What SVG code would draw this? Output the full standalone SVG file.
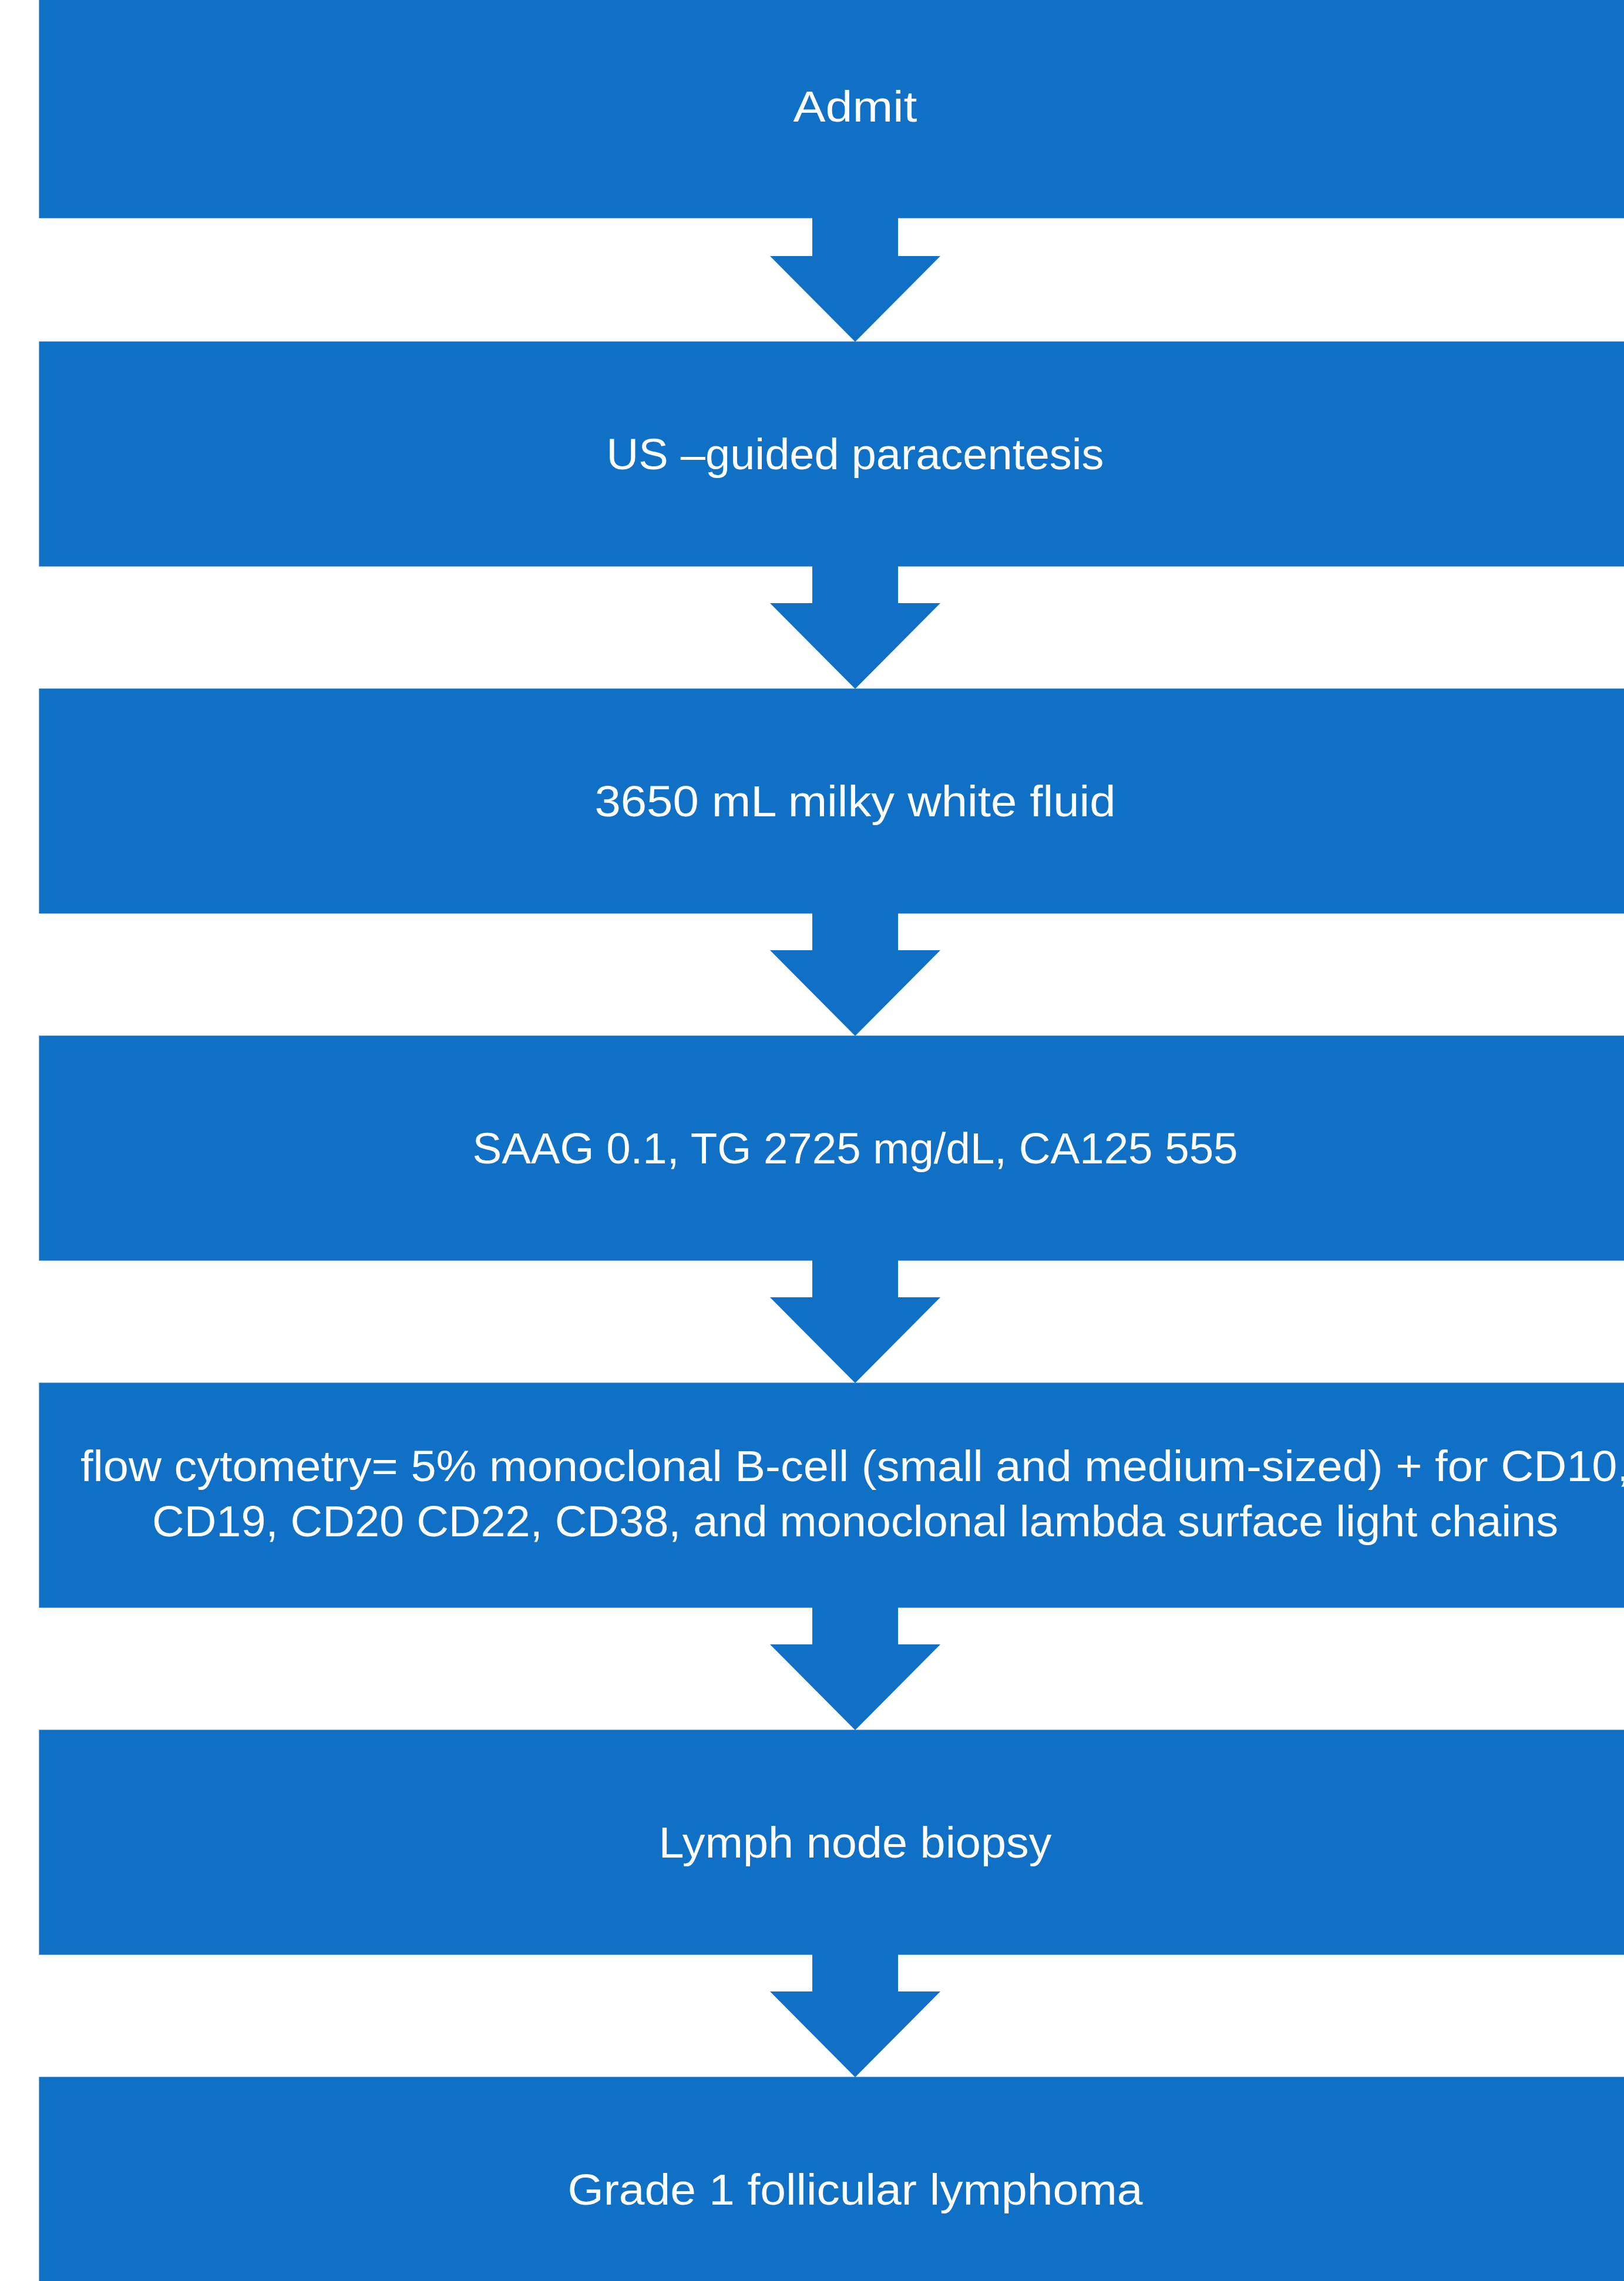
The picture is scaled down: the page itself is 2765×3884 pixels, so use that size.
<svg xmlns="http://www.w3.org/2000/svg" width="2765" height="3884" viewBox="0 0 2765 3884">
<style>
.box{fill:#1070c5;stroke:#ffffff;stroke-opacity:0.6;stroke-width:1.5}
.arr{fill:#1070c5}
.t{font-family:"Liberation Sans",Arial,sans-serif;font-size:75px;fill:#ffffff;text-anchor:middle}
</style>
<rect width="2765" height="3884" fill="#ffffff"/>
<g id="n1"><rect class="box" x="66" y="-10" width="2780" height="382"/><text class="t" x="1456" y="207" textLength="211" lengthAdjust="spacingAndGlyphs">Admit</text></g>
<g id="n2"><rect class="box" x="66" y="581" width="2780" height="384"/><text class="t" x="1456" y="799" textLength="847" lengthAdjust="spacingAndGlyphs">US –guided paracentesis</text></g>
<g id="n3"><rect class="box" x="66" y="1172" width="2780" height="384"/><text class="t" x="1456" y="1390" textLength="887" lengthAdjust="spacingAndGlyphs">3650 mL milky white fluid</text></g>
<g id="n4"><rect class="box" x="66" y="1763" width="2780" height="384"/><text class="t" x="1456" y="1981" textLength="1303" lengthAdjust="spacingAndGlyphs">SAAG 0.1, TG 2725 mg/dL, CA125 555</text></g>
<g id="n5"><rect class="box" x="66" y="2354" width="2780" height="384"/><text class="t" x="1456" y="2522" textLength="2638" lengthAdjust="spacingAndGlyphs">flow cytometry= 5% monoclonal B-cell (small and medium-sized) + for CD10,</text><text class="t" x="1456" y="2616" textLength="2394" lengthAdjust="spacingAndGlyphs">CD19, CD20 CD22, CD38, and monoclonal lambda surface light chains</text></g>
<g id="n6"><rect class="box" x="66" y="2945" width="2780" height="384"/><text class="t" x="1456" y="3163" textLength="669" lengthAdjust="spacingAndGlyphs">Lymph node biopsy</text></g>
<g id="n7"><rect class="box" x="66" y="3536" width="2780" height="384"/><text class="t" x="1456" y="3754" textLength="979" lengthAdjust="spacingAndGlyphs">Grade 1 follicular lymphoma</text></g>
<g id="connectors">
<polygon class="arr" points="1383,369 1529,369 1529,436 1601,436 1456,582 1311,436 1383,436"/>
<polygon class="arr" transform="translate(0,591)" points="1383,369 1529,369 1529,436 1601,436 1456,582 1311,436 1383,436"/>
<polygon class="arr" transform="translate(0,1182)" points="1383,369 1529,369 1529,436 1601,436 1456,582 1311,436 1383,436"/>
<polygon class="arr" transform="translate(0,1773)" points="1383,369 1529,369 1529,436 1601,436 1456,582 1311,436 1383,436"/>
<polygon class="arr" transform="translate(0,2364)" points="1383,369 1529,369 1529,436 1601,436 1456,582 1311,436 1383,436"/>
<polygon class="arr" transform="translate(0,2955)" points="1383,369 1529,369 1529,436 1601,436 1456,582 1311,436 1383,436"/>
</g>
</svg>
